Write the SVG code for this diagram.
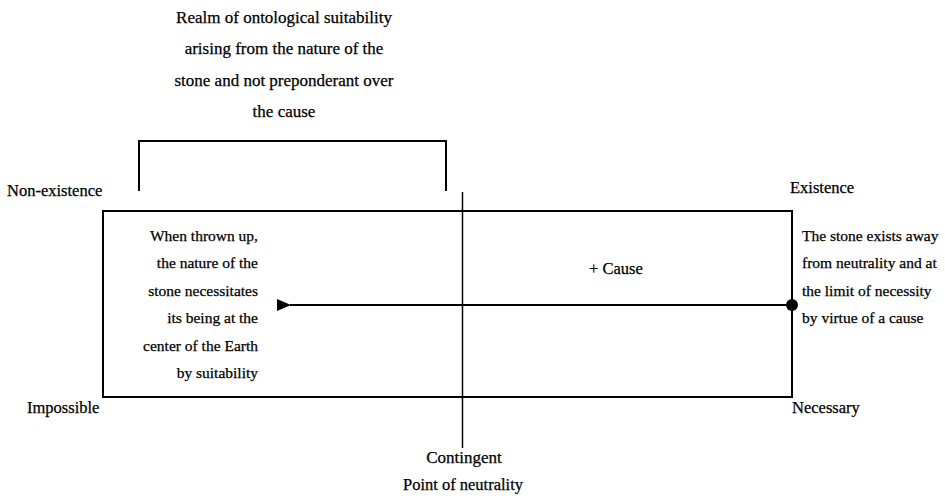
<svg xmlns="http://www.w3.org/2000/svg" width="945" height="501" viewBox="0 0 945 501">
<defs>
<style>
text{font-family:"Liberation Serif","Times New Roman",serif;font-size:15.5px;fill:#000;stroke:#000;stroke-width:0.25}
.e{text-anchor:end}.m{text-anchor:middle}
.t{font-size:17px}.l{font-size:16.5px}
.ln{fill:none;stroke:#000;stroke-width:2}
</style>
<marker id="ah" markerWidth="14" markerHeight="12" refX="1" refY="6" orient="auto" markerUnits="userSpaceOnUse">
<path d="M14,0 L0,6 L14,12 z" fill="#000"/>
</marker>
</defs>
<rect width="945" height="501" fill="#fff"/>
<g id="realm">
<path class="ln" d="M139,191 V141 H446 V191"/>
<text class="m t" x="284" y="23">Realm of ontological suitability</text>
<text class="m t" x="284" y="54">arising from the nature of the</text>
<text class="m t" x="284" y="86">stone and not preponderant over</text>
<text class="m t" x="284" y="117">the cause</text>
</g>
<g id="field">
<rect class="ln" x="103" y="211" width="689" height="186"/>
</g>
<g id="left-text">
<text class="e" x="258" y="241">When thrown up,</text>
<text class="e" x="258" y="268">the nature of the</text>
<text class="e" x="258" y="296">stone necessitates</text>
<text class="e" x="258" y="323">its  being at the</text>
<text class="e" x="258" y="351">center of the Earth</text>
<text class="e" x="258" y="378">by suitability</text>
</g>
<g id="right-text">
<text x="802" y="241">The stone exists away</text>
<text x="802" y="268">from neutrality and at</text>
<text x="802" y="296">the limit of necessity</text>
<text x="802" y="323">by virtue of a cause</text>
</g>
<g id="labels">
<text class="l" x="7" y="196">Non-existence</text>
<text class="l" x="790" y="193">Existence</text>
<text class="l" x="27" y="413">Impossible</text>
<text class="l" x="792" y="413">Necessary</text>
<text class="l" x="589" y="274">+ Cause</text>
<text class="m t" x="464" y="463">Contingent</text>
<text class="m l" x="463" y="490">Point of neutrality</text>
</g>
<g id="connectors">
<line x1="462.5" y1="192" x2="462.5" y2="448" stroke="#000" stroke-width="1.5"/>
<line x1="792" y1="305" x2="290" y2="305" stroke="#000" stroke-width="2" marker-end="url(#ah)"/>
<circle cx="792" cy="305" r="6" fill="#000"/>
</g>
</svg>
